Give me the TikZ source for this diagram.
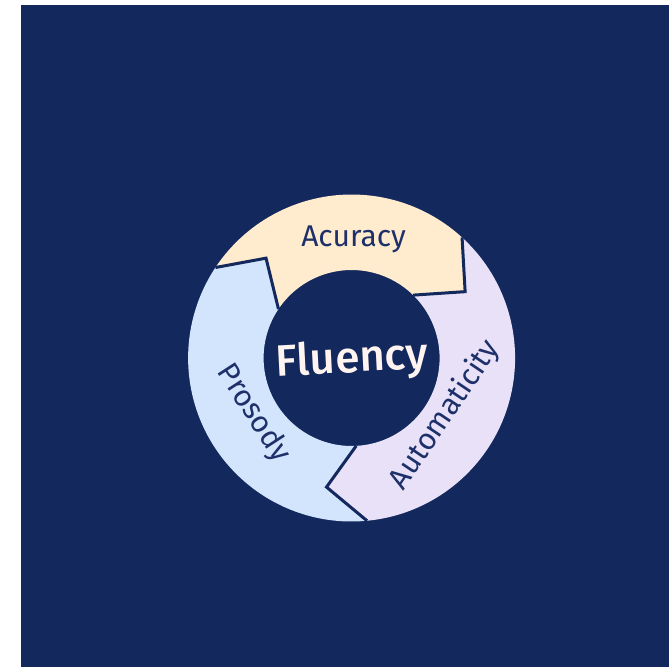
\documentclass[tikz,border=0pt]{standalone}
\usepackage{fontspec}
\setmainfont{Fira Sans}[BoldFont=* Medium]
\usepackage{tikz}

\definecolor{navy}{RGB}{19,40,92}
\definecolor{peach}{RGB}{255,235,205}
\definecolor{skyblue}{RGB}{211,229,253}
\definecolor{lilac}{RGB}{232,225,248}
\definecolor{inkblue}{RGB}{30,48,105}
\definecolor{cream}{RGB}{255,244,240}

\begin{document}
\begin{tikzpicture}[x=1pt,y=1pt,
		seglabel/.style={text=inkblue,inner sep=0pt,font=\fontsize{30}{30}\selectfont},
		cut/.style={draw=navy,line width=3pt,line join=miter}]
		\useasboundingbox (0,0) rectangle (669,667);
		\fill[navy] (21,0) rectangle (669,662);
		\begin{scope}[shift={(351.6,309)}]
		% the three pieces of the ring
		\fill[peach] (146.4:163.5) arc[start angle=146.4,end angle=47.5,radius=163.5] -- (30.3:131.5) -- (45.6:88) arc[start angle=45.6,end angle=146.2,radius=88] -- (130.6:131.5) -- cycle;
		\fill[lilac] (47.5:163.5) arc[start angle=47.5,end angle=-84.6,radius=163.5] -- (-101:131.5) -- (-87:88) arc[start angle=-87,end angle=45.6,radius=88] -- (30.3:131.5) -- cycle;
		\fill[skyblue] (-84.6:163.5) arc[start angle=-84.6,end angle=-213.6,radius=163.5] -- (130.6:131.5) -- (146.2:88) arc[start angle=-213.8,end angle=-87,radius=88] -- (-101:131.5) -- cycle;
		% cuts between them
		\draw[cut] (146.4:163.5) -- (130.6:131.5) -- (146.2:88);
		\draw[cut] (47.5:163.5) -- (30.3:131.5) -- (45.6:88);
		\draw[cut] (-84.6:163.5) -- (-101:131.5) -- (-87:88);
		% labels
		\node[seglabel] (acc) at (2,119) {Acuracy};
		\node[seglabel,rotate=56] (aut) at (-31.4:109.4) {Automaticity};
		\node[seglabel,rotate=-57] (pro) at (209.4:112.8) {Prosody};
		\node[text=cream,inner sep=0pt,font=\bfseries\fontsize{44}{44}\selectfont,rotate=3] (flu) at (0.5,-2.5) {Fluency};
		\end{scope}
\end{tikzpicture}
\end{document}
